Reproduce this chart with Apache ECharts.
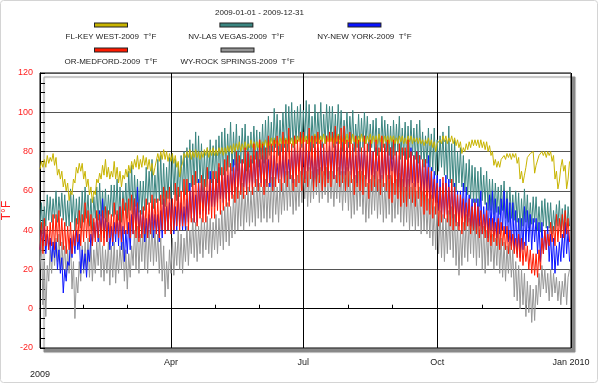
<!DOCTYPE html>
<html><head><meta charset="utf-8">
<script src="https://cdn.jsdelivr.net/npm/echarts@6/dist/echarts.min.js"></script>
<style>html,body{margin:0;padding:0;background:#fff}#c{width:600px;height:385px}</style>
</head><body><div id="c"></div>
<script>
// Series names (legend order)
const names = ['FL-KEY WEST-2009  T°F','NV-LAS VEGAS-2009  T°F','NY-NEW YORK-2009  T°F','OR-MEDFORD-2009  T°F','WY-ROCK SPRINGS-2009  T°F'];
const colors = ['#c8b400','#3a8580','#0a14ff','#ff1a00','#969696'];
// x tick labels
const monthLabels = ['Jan','Feb','Mar','Apr','May','Jun','Jul','Aug','Sep','Oct','Nov','Dec'];
const yTicks = [-20,0,20,40,60,80,100,120];
// Daily turning points (alternating low / high), one value per day from 2009-01-01
const keyWest = [
71,75,72,76,72,78,74,77,75,79, 73,77,68,71,66,70,62,66,60,64,
55,60,58,66,64,72,69,74,70,74, 66,70,62,66,58,62,54,60,58,66,
64,69,66,73,68,76,67,72,66,70, 67,75,66,72,64,70,62,68,66,71,
67,73,69,75,71,76,72,78,71,76, 72,78,73,77,71,76,70,74,68,72,
72,79,75,80,76,81,76,80,75,79, 75,79,74,78,72,75,67,72,74,79,
77,80,77,81,76,80,77,81,77,80, 76,80,77,81,78,82,77,81,78,82,
78,81,78,82,79,82,78,82,79,83, 80,83,79,84,80,84,81,85,80,84,
81,85,81,84,82,86,82,85,81,85, 82,86,82,85,83,86,82,86,83,87,
83,87,84,86,83,87,84,88,84,87, 84,88,84,87,83,88,84,88,85,88,
84,89,85,88,84,89,85,88,84,89, 85,89,84,88,85,89,84,88,85,89,
85,88,84,89,85,89,84,88,85,88, 84,89,85,88,84,89,85,88,84,88,
85,89,85,88,84,88,85,89,84,88, 85,88,84,89,85,88,84,88,85,88,
84,88,85,88,84,87,84,88,85,88, 84,87,84,88,85,88,84,87,85,87,
84,87,84,86,83,86,84,87,83,86, 82,85,80,84,83,86,84,88,85,88,
84,87,85,88,84,87,83,86,82,85, 79,82,80,84,81,85,82,86,83,86,
83,86,82,86,82,85,81,85,80,83, 78,80,73,76,72,75,72,76,75,78,
76,79,77,79,76,79,77,79,74,77, 66,70,64,68,72,77,76,79,78,80,
69,73,74,78,77,80,78,80,77,80, 78,80,75,78,66,70,61,65,72,76,
70,73,61,66,75];
const lasVegas = [
40,54,38,52,42,58,45,57,44,56, 46,60,44,57,47,59,45,58,42,55,
42,61,44,58,40,56,43,57,41,60, 44,62,46,58,42,56,40,57,46,62,
45,64,47,60,46,61,44,58,48,63, 47,63,48,66,45,62,44,60,50,64,
46,70,50,73,48,68,52,66,49,65, 48,65,50,72,53,70,54,76,51,68,
54,76,55,78,53,74,52,72,56,77, 56,79,58,76,55,74,57,78,60,80,
58,82,60,86,62,84,63,90,64,88, 64,84,60,80,62,82,66,86,64,83,
66,86,64,88,68,90,68,92,70,89, 72,95,70,90,73,94,70,88,74,92,
74,94,70,88,72,90,74,93,76,91, 72,90,76,94,74,96,76,98,78,95,
80,102,82,99,78,96,80,100,82,104, 80,103,84,105,82,101,84,103,86,104,
82,101,86,106,84,104,80,98,82,104, 84,100,86,105,82,99,84,104,86,103,
86,103,82,99,84,104,86,101,80,96, 84,100,82,98,84,101,80,94,82,99,
80,97,82,100,84,98,80,94,82,96, 80,97,78,92,80,98,82,96,80,94,
78,93,76,96,78,94,80,98,76,92, 78,95,76,93,77,96,78,92,76,94,
74,96,76,90,72,88,74,92,72,89, 70,92,68,86,70,88,72,90,68,86,
66,93,64,84,62,86,60,80,64,82, 62,78,60,74,58,76,56,73,54,72,
54,70,52,72,55,68,53,70,50,66, 50,66,48,64,49,62,48,63,50,65,
46,60,44,62,46,58,45,60,44,59, 40,56,42,61,44,58,41,54,43,57,
44,57,40,52,39,55,42,56,41,54, 41,54,38,50,40,53,42,55,39,51,
40,53,38,52,42];
const newYork = [
30,40,32,42,28,38,30,36,24,34, 26,34,20,30,18,26,8,20,14,24,
22,36,26,38,28,40,30,38,18,30, 20,28,16,30,24,38,32,44,36,48,
34,50,38,56,36,46,34,44,30,42, 32,44,34,48,32,52,30,42,24,40,
28,44,30,48,38,56,40,62,36,50, 38,50,34,46,36,48,38,52,36,48,
38,48,34,50,36,56,40,52,40,54, 42,56,38,52,40,58,42,54,40,52,
40,56,44,64,46,60,44,58,44,66, 48,64,50,62,48,60,50,70,52,66,
52,66,54,72,56,68,54,70,56,68, 55,72,58,76,60,78,62,74,60,76,
62,74,60,79,64,76,62,78,64,80, 62,76,64,78,62,80,64,76,62,78,
62,78,66,74,64,80,66,78,64,80, 68,76,66,80,64,82,68,80,70,82,
68,80,66,84,70,80,70,78,64,82, 66,82,68,84,70,82,68,80,66,83,
70,80,66,83,70,85,68,82,66,84, 68,82,70,80,68,82,66,78,64,84,
70,80,68,82,66,78,64,84,68,80, 66,82,70,78,64,80,66,82,68,80,
66,82,70,78,64,80,62,78,60,76, 62,80,60,76,62,82,64,78,62,80,
64,78,60,74,58,76,60,78,56,72, 56,70,54,68,50,66,48,64,46,68,
48,66,48,62,46,64,44,60,42,60, 46,64,44,62,44,58,42,56,40,56,
40,56,42,60,38,52,40,54,36,58, 40,60,38,56,36,52,38,56,40,60,
38,56,34,54,32,54,30,50,28,46, 26,46,30,52,32,50,34,48,30,46,
34,46,28,44,24,44,28,40,30,42, 24,38,20,36,18,32,22,34,24,38,
26,44,28,40,24];
const medford = [
30,44,28,46,32,42,30,44,32,48, 30,48,34,50,32,46,30,44,28,42,
30,44,28,40,32,46,34,50,32,48, 34,54,36,50,34,48,32,46,34,50,
36,48,34,50,32,52,34,50,36,48, 34,54,38,50,36,52,34,56,38,54,
38,56,36,58,38,56,36,54,34,50, 36,52,38,56,36,54,38,58,40,56,
38,56,36,58,40,62,38,60,40,62, 38,56,40,64,42,62,40,60,42,66,
42,66,40,60,44,68,44,70,42,64, 46,68,44,66,44,72,48,66,46,70,
46,70,50,74,48,72,50,76,52,78, 52,74,56,72,54,80,56,78,58,76,
56,82,58,80,60,78,58,84,62,80, 60,86,62,84,58,82,62,88,64,84,
60,86,62,88,64,84,60,90,64,86, 62,92,66,84,60,88,62,86,64,90,
60,90,64,86,62,92,66,88,60,88, 62,90,64,86,60,84,62,88,64,90,
62,90,66,93,64,88,62,92,64,93, 60,86,62,90,64,84,58,88,62,86,
60,82,58,88,62,84,56,86,60,80, 62,86,60,82,58,88,62,84,60,86,
56,82,54,86,58,80,56,84,52,82, 54,82,52,86,56,80,54,78,52,80,
56,78,52,76,48,76,50,72,48,70, 46,66,48,64,42,62,44,67,46,64,
44,62,42,66,40,62,42,58,40,58, 38,56,40,54,42,56,38,52,40,54,
38,52,36,50,38,48,36,50,34,46, 32,46,34,44,32,46,30,44,32,42,
30,42,28,40,30,38,28,36,26,38, 24,36,22,34,24,32,20,30,18,28,
17,28,16,30,20,36,28,40,30,38, 32,44,34,42,32,48,34,46,36,48,
36,50,38,46,34];
const rockSprings = [
20,36,2,24,-4,22,14,30,18,34, 22,36,24,38,20,34,20,32,16,30,
18,34,10,24,-5,16,8,24,14,32, 18,34,20,36,16,34,14,30,18,34,
22,38,16,32,14,30,18,34,12,32, 16,34,13,30,18,32,20,34,14,30,
10,28,16,32,22,40,20,42,18,38, 24,44,20,42,18,40,24,44,22,40,
24,38,18,36,14,32,6,24,10,30, 18,36,17,34,22,40,20,38,18,36,
24,42,22,40,28,46,26,44,24,42, 28,46,26,44,30,47,28,46,26,44,
30,48,28,46,32,50,30,52,34,54, 32,52,36,58,38,62,40,60,42,64,
40,58,44,62,42,60,44,62,42,66, 46,64,44,62,46,66,44,64,46,67,
44,67,48,62,44,66,48,64,50,70, 50,70,52,68,48,66,50,68,52,70,
54,72,56,70,52,72,54,70,56,72, 58,71,54,72,56,70,58,72,54,70,
56,70,52,68,56,72,54,70,50,70, 54,72,50,70,46,66,48,68,50,70,
52,70,48,68,44,64,46,66,48,68, 50,70,46,66,48,68,44,64,46,68,
48,68,44,64,46,66,48,69,44,66, 42,62,44,66,40,62,42,64,40,60,
42,62,38,60,40,58,38,56,36,58, 32,52,30,54,28,50,26,48,24,46,
28,50,30,52,26,48,22,44,17,40, 22,44,26,48,24,46,28,52,26,48,
22,46,26,44,20,42,18,40,22,44, 24,38,20,36,22,40,18,36,16,34,
14,32,18,34,16,30,6,24,4,22, 0,20,2,18,-4,14,-2,12,-7,10,
-6,12,2,18,6,22,10,20,8,18, 4,20,6,18,8,16,4,14,2,14,
6,18,2,16,20];

const DAY = 86400000;
const START = new Date(2009,0,1).getTime();
const END = new Date(2010,0,1).getTime();
function pts(arr){ return arr.map((v,i)=>[START + i*DAY, v]); }

const dataByName = [keyWest, lasVegas, newYork, medford, rockSprings];
const drawOrder = [4,1,0,2,3];
const FONT = 'Liberation Sans';

const rich = { t:{fontSize:8, lineHeight:12, align:'center', color:'#222', fontFamily:FONT} };
colors.forEach((c,i)=>{ rich['k'+i] = {width:32, height:3, lineHeight:12, backgroundColor:c, borderColor:'#222', borderWidth:1, align:'center'}; });
function legendFmt(name){ const i = names.indexOf(name); return '{k'+i+'|}\n{t|'+name+'}'; }
function legendCfg(list, top){
  return {data:list, left:31, top:top, padding:0, itemGap:0, itemWidth:0, itemHeight:0, icon:'none',
    formatter:legendFmt, selectedMode:false,
    textStyle:{width:150, fontSize:8, fontFamily:FONT, color:'#222', rich:rich}};
}

const chart = echarts.init(document.getElementById('c'), null, {renderer:'canvas'});
chart.setOption({
  animation:false,
  backgroundColor:'#fff',
  title:{text:'2009-01-01 - 2009-12-31', left:215, top:9, padding:0,
    textStyle:{fontSize:8, fontWeight:'normal', color:'#222', fontFamily:FONT}},
  legend:[legendCfg(names.slice(0,3),21), legendCfg(names.slice(3),46)],
  graphic:[{type:'rect', silent:true, z:-1, shape:{x:0.5,y:0.5,width:597,height:382,r:3},
    style:{fill:'none', stroke:'#d4d4d4', lineWidth:1}}],
  grid:{left:40, top:73, width:531, height:275, containLabel:false, outerBoundsMode:'none',
    show:true, backgroundColor:'#fff',
    borderColor:'#000', borderWidth:1, shadowColor:'#8a8a8a', shadowBlur:1, shadowOffsetX:4, shadowOffsetY:4},
  xAxis:{type:'time', min:START, max:END, minInterval:92*DAY, maxInterval:100*DAY,
    axisLine:{lineStyle:{color:'#000'}},
    axisTick:{show:true, inside:true, length:4, lineStyle:{color:'#000'}},
    minorTick:{show:true, splitNumber:3, length:4, lineStyle:{color:'#000'}},
    splitLine:{show:true, lineStyle:{color:'#000', width:1}},
    axisLabel:{fontSize:9, color:'#222', fontFamily:FONT, margin:9, lineHeight:12, hideOverlap:false,
      showMinLabel:true, showMaxLabel:true, alignMinLabel:'center', alignMaxLabel:'center',
      formatter:function(v){ const d=new Date(v); const m=d.getMonth();
        if(m===0){ return d.getFullYear()===2009 ? '\n2009' : 'Jan 2010'; }
        return monthLabels[m]; }}},
  yAxis:{type:'value', min:yTicks[0], max:yTicks[yTicks.length-1], interval:20,
    name:'T°F', nameLocation:'middle', nameGap:27, nameRotate:90, nameMoveOverlap:false,
    nameTextStyle:{color:'#ff2020', fontSize:12, fontFamily:FONT},
    axisLine:{show:true, lineStyle:{color:'#000'}},
    axisTick:{show:true, inside:true, length:5, lineStyle:{color:'#000'}},
    minorTick:{show:true, splitNumber:4, length:5, lineStyle:{color:'#000'}},
    axisLabel:{color:'#ff2020', fontSize:9, fontFamily:FONT, margin:7},
    splitLine:{show:true, lineStyle:{color:'#555', width:1.2}}},
  series: drawOrder.map(i=>({
    name:names[i], type:'line', data:pts(dataByName[i]), showSymbol:false, symbol:'none',
    silent:true, sampling:null, color:colors[i], lineStyle:{width:1, color:colors[i]}
  }))
});
</script></body></html>
